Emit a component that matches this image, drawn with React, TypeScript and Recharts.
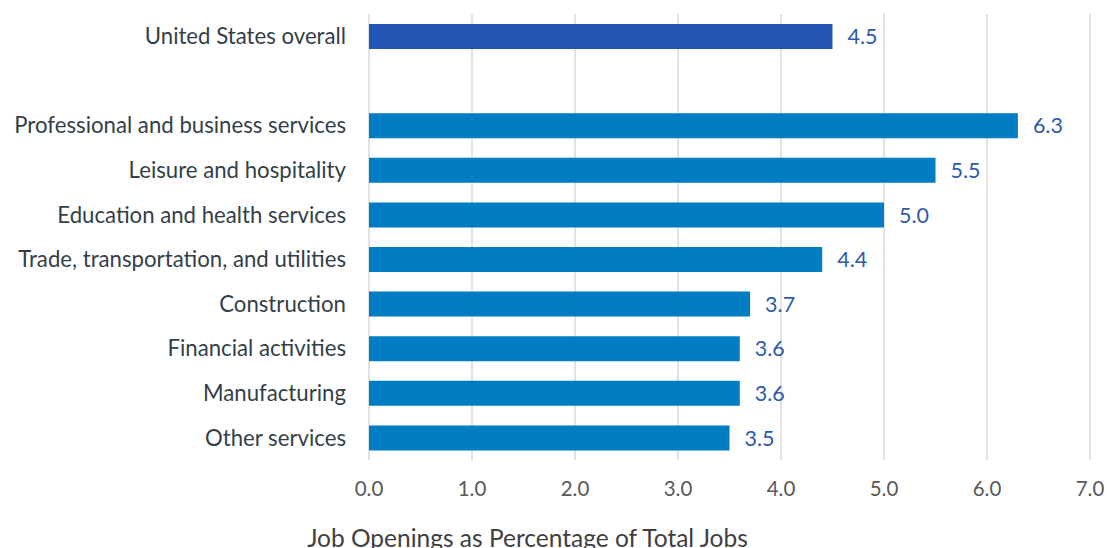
import React from "react";
import { BarChart, Bar, XAxis, YAxis, CartesianGrid, Cell, LabelList, Label } from "recharts";

const categories = [
  "United States overall",
  " ",
  "Professional and business services",
  "Leisure and hospitality",
  "Education and health services",
  "Trade, transportation, and utilities",
  "Construction",
  "Financial activities",
  "Manufacturing",
  "Other services",
];
const values: (number | null)[] = [4.5, null, 6.3, 5.5, 5.0, 4.4, 3.7, 3.6, 3.6, 3.5];
const xTicks = [0, 1, 2, 3, 4, 5, 6, 7];

const data = categories.map((name, i) => ({ name, value: values[i] }));

const FONT = "Lato, 'Open Sans', sans-serif";

export default function App() {
  return (
    <div style={{ position: "absolute", left: 0, top: 0, width: 1107, height: 548, background: "#fff", overflow: "hidden" }}>
      <BarChart
        width={1107}
        height={548}
        data={data}
        layout="vertical"
        margin={{ top: 14, right: 17, bottom: 0, left: 0 }}
        barCategoryGap={0}
      >
        <CartesianGrid horizontal={false} vertical stroke="#d9d9d9" strokeWidth={1.5} />
        <XAxis
          type="number"
          domain={[0, 7]}
          ticks={xTicks}
          tickFormatter={(v: number) => v.toFixed(1)}
          axisLine={false}
          tickLine={false}
          tickSize={0}
          tickMargin={21}
          height={88}
          tick={{ fill: "#595959", fontSize: 20.5, fontFamily: FONT }}
          interval={0}
        >
          <Label
            value="Job Openings as Percentage of Total Jobs"
            position="insideBottom"
            dx={-202}
            dy={4}
            style={{ fill: "#404040", fontSize: 24.5, fontFamily: FONT }}
          />
        </XAxis>
        <YAxis
          type="category"
          dataKey="name"
          width={369}
          axisLine={false}
          tickLine={false}
          tickSize={0}
          tickMargin={23}
          interval={0}
          tick={{ fill: "#333f48", fontSize: 22.2, fontFamily: FONT }}
        />
        <Bar dataKey="value" barSize={25} isAnimationActive={false}>
          {data.map((d, i) => (
            <Cell key={i} fill={i === 0 ? "#2356B4" : "#007DC3"} />
          ))}
          <LabelList
            dataKey="value"
            position="right"
            offset={15}
            formatter={(v: number) => (v == null ? "" : v.toFixed(1))}
            style={{ fill: "#2E5AAC", fontSize: 21.5, fontFamily: FONT }}
          />
        </Bar>
      </BarChart>
    </div>
  );
}
